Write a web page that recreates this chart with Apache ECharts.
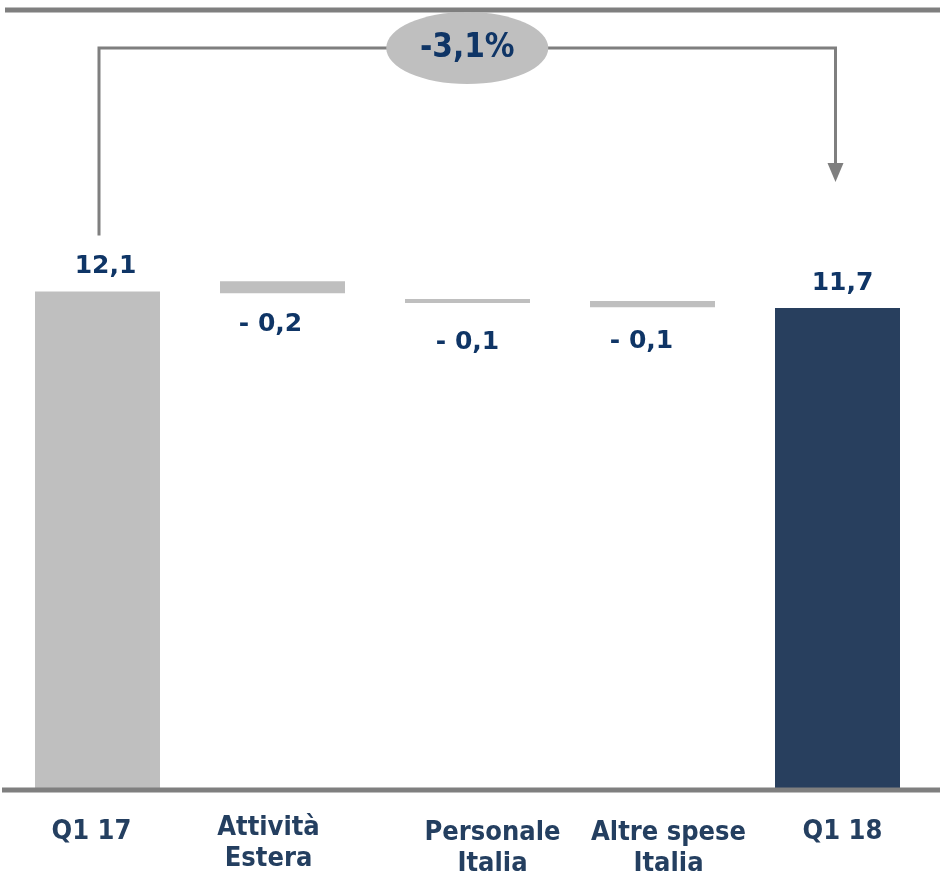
<!DOCTYPE html>
<html><head><meta charset="utf-8">
<script src="https://cdn.jsdelivr.net/npm/echarts/dist/echarts.min.js"></script>
<style>html,body{margin:0;padding:0;background:#fff}#c{width:940px;height:874px}</style>
</head><body><div id="c"></div>
<script>
const categories = ['Q1 17', 'Attività\nEstera', 'Personale\nItalia', 'Altre spese\nItalia', 'Q1 18'];
const barStart = [0, 12.06, 11.82, 11.72, 0];
const barEnd = [12.1, 12.35, 11.92, 11.87, 11.7];
const valueLabels = ['12,1', '- 0,2', '- 0,1', '- 0,1', '11,7'];
const changeLabel = '-3,1%';

const GRAY = '#bfbfbf', NAVY = '#283f5e', LINE = '#7f7f7f', TXT = '#0f3566', CAT = '#243f60';
const barColors = [GRAY, GRAY, GRAY, GRAY, NAVY];
const labelPos = ['top', 'bottom', 'bottom', 'bottom', 'top'];
const labelDist = [12, 19, 27, 22, 12];
const labelOff = [[8, 0], [-12, 0], [0, 0], [-11, 0], [5, 0]];
const catPad = [[4, 12, 0, 0], [0, 28, 0, 0], [5, 0, 0, 50], [5, 0, 0, 32], [4, 0, 0, 10]];

const chart = echarts.init(document.getElementById('c'));
const condensed = "'DejaVu Sans Condensed', 'Liberation Sans Narrow', 'DejaVu Sans', sans-serif";
chart.setOption({
  animation: false,
  grid: { left: 5, right: 10, top: 172, bottom: 84, containLabel: false, outerBoundsMode: 'none' },
  xAxis: {
    type: 'category',
    data: categories.map((c, i) => ({ value: c, textStyle: { padding: catPad[i] } })),
    axisLine: { show: false }, axisTick: { show: false },
    axisLabel: { interval: 0, margin: 22, color: CAT, fontFamily: condensed, fontWeight: 'bold', fontSize: 27, lineHeight: 31 }
  },
  yAxis: { type: 'value', min: 0, max: 15, show: false, splitLine: { show: false } },
  series: [
    { type: 'bar', stack: 'w', barWidth: 125, itemStyle: { color: 'transparent' }, silent: true,
      data: barStart },
    { type: 'bar', stack: 'w', barWidth: 125,
      data: barEnd.map((v, i) => ({
        value: +(v - barStart[i]).toFixed(3),
        itemStyle: { color: barColors[i] },
        label: { show: true, position: labelPos[i], distance: labelDist[i], offset: labelOff[i],
          formatter: valueLabels[i], color: TXT, fontFamily: "'DejaVu Sans', sans-serif", fontWeight: 'bold', fontSize: 25 }
      }))
    }
  ]
});

const xL = chart.convertToPixel({ xAxisIndex: 0 }, 0) + 1.5;
const xR = chart.convertToPixel({ xAxisIndex: 0 }, categories.length - 1) - 2;
const yT0 = chart.convertToPixel({ yAxisIndex: 0 }, barEnd[0]);
const yT4 = chart.convertToPixel({ yAxisIndex: 0 }, barEnd[barEnd.length - 1]);
const yBase = chart.convertToPixel({ yAxisIndex: 0 }, 0);
const bY = 48, cx = (xL + xR) / 2;
chart.setOption({
  graphic: [
    { type: 'line', shape: { x1: 5, y1: 10, x2: 940, y2: 10 }, style: { stroke: LINE, lineWidth: 5 } },
    { type: 'line', shape: { x1: 2, y1: yBase, x2: 940, y2: yBase }, style: { stroke: LINE, lineWidth: 5 }, z: 10 },
    { type: 'polyline', shape: { points: [[xL, yT0 - 56], [xL, bY], [xR, bY], [xR, yT4 - 143]] }, style: { stroke: LINE, lineWidth: 3, fill: null } },
    { type: 'polygon', shape: { points: [[xR - 8, yT4 - 145], [xR + 8, yT4 - 145], [xR, yT4 - 126]] }, style: { fill: LINE } },
    { type: 'ellipse', shape: { cx: cx, cy: bY, rx: 81, ry: 36 }, style: { fill: GRAY }, z: 20 },
    { type: 'text', x: cx, y: bY, z: 21, style: { text: changeLabel, x: 0, y: 0, align: 'center', verticalAlign: 'middle', fill: TXT, font: "bold 33px " + condensed } }
  ]
});
</script></body></html>
